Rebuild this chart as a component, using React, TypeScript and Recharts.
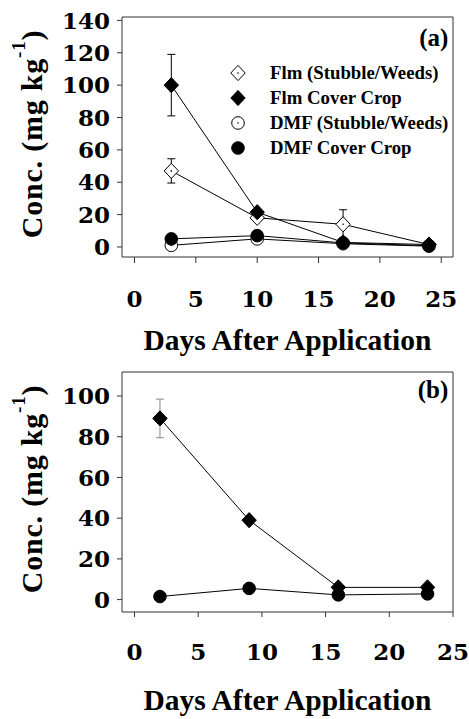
import React from 'react';
import { LineChart, Line, XAxis, YAxis, ReferenceArea, ErrorBar, Legend } from 'recharts';

// ---- Panel (a) data ----
const daysA = [3, 10, 17, 24];
const flmStubbleA = [47, 18, 14, 1.5];
const flmStubbleErrA = [7.5, null, 9, null];
const flmCoverA = [100, 21.5, 2.8, 1.5];
const flmCoverErrA = [19, null, null, null];
const dmfStubbleA = [1, 5, 2, 0.5];
const dmfCoverA = [5, 7, 2.5, 0.8];

// ---- Panel (b) data ----
const daysB = [2, 9, 16, 23];
const flmCoverB = [89, 39, 6, 6];
const flmCoverErrB = [9.5, null, null, null];
const dmfCoverB = [1.5, 5.5, 2.3, 2.8];

// ---- ticks / labels ----
const xTicks = [0, 5, 10, 15, 20, 25];
const yTicksA = [0, 20, 40, 60, 80, 100, 120, 140];
const yTicksB = [0, 20, 40, 60, 80, 100];
const legendLabels = ['Flm (Stubble/Weeds)', 'Flm Cover Crop', 'DMF (Stubble/Weeds)', 'DMF Cover Crop'];
const legendKinds = ['dOpen', 'dFill', 'cOpen', 'cFill'];
const xTitle = 'Days After Application';
const panelA = '(a)';
const panelB = '(b)';

const domainXA: [number, number] = [-1.02, 25.96];
const domainYA: [number, number] = [-6.2, 142.1];
const domainXB: [number, number] = [-0.98, 25];
const domainYB: [number, number] = [-6.1, 111.8];

const dataA = daysA.map((d, i) => ({
  day: d,
  flmS: flmStubbleA[i],
  flmSErr: flmStubbleErrA[i],
  flmC: flmCoverA[i],
  flmCErr: flmCoverErrA[i],
  dmfS: dmfStubbleA[i],
  dmfC: dmfCoverA[i],
}));

const dataB = daysB.map((d, i) => ({
  day: d,
  flmC: flmCoverB[i],
  flmCErr: flmCoverErrB[i],
  dmfC: dmfCoverB[i],
}));

const SERIF = '"Liberation Serif", "Times New Roman", serif';
const DSERIF = '"DejaVu Serif", serif';

function Marker({ kind, cx, cy }: { kind: string; cx: number; cy: number }) {
  if (kind === 'dOpen' || kind === 'dFill') {
    const pts = `${cx},${cy - 7.6} ${cx + 7.2},${cy} ${cx},${cy + 7.6} ${cx - 7.2},${cy}`;
    return (
      <g>
        <polygon points={pts} fill={kind === 'dFill' ? '#000' : '#fff'} stroke="#000" strokeWidth={1} />
        {kind === 'dOpen' && <circle cx={cx} cy={cy} r={0.8} fill="#000" />}
      </g>
    );
  }
  return (
    <g>
      <circle cx={cx} cy={cy} r={6.3} fill={kind === 'cFill' ? '#000' : '#fff'} stroke="#000" strokeWidth={1} />
      {kind === 'cOpen' && <circle cx={cx} cy={cy} r={0.8} fill="#000" />}
    </g>
  );
}

const dotFor = (kind: string) => (props: any) => {
  const { cx, cy, index } = props;
  if (cx == null || cy == null) return <g key={`k${kind}${index}`} />;
  return (
    <g key={`k${kind}${index}`}>
      <Marker kind={kind} cx={cx} cy={cy} />
    </g>
  );
};

const YLabel = (props: any) => {
  const vb = props.viewBox || {};
  const cx = 41.5;
  const cy = vb.y + vb.height / 2 - 3;
  return (
    <text
      transform={`rotate(-90, ${cx}, ${cy})`}
      x={cx}
      y={cy}
      textAnchor="middle"
      fontFamily={SERIF}
      fontWeight={700}
      fontSize={30}
      letterSpacing={0.8}
      fill="#000"
    >
      Conc. (mg kg
      <tspan dy={-17} fontSize={19}>-1</tspan>
      <tspan dy={17}>)</tspan>
    </text>
  );
};

const makeXLabel = (offset: number) => (props: any) => {
  const vb = props.viewBox || {};
  return (
    <text
      x={vb.x + vb.width / 2}
      y={vb.y + offset}
      textAnchor="middle"
      fontFamily={SERIF}
      fontWeight={700}
      fontSize={29.5}
      fill="#000"
    >
      {xTitle}
    </text>
  );
};

const makeCorner = (txt: string, dy: number) => (props: any) => {
  const vb = props.viewBox || {};
  return (
    <text
      x={vb.x + vb.width - 4.7}
      y={vb.y + dy}
      textAnchor="end"
      fontFamily={SERIF}
      fontWeight={700}
      fontSize={25}
      fill="#000"
    >
      {txt}
    </text>
  );
};

const LegendBox = () => (
  <div style={{ position: 'absolute', left: 226, top: 61, width: 240 }}>
    {legendLabels.map((lab, i) => (
      <div key={lab} style={{ height: 24.8, display: 'flex', alignItems: 'center' }}>
        <svg width={24} height={20} style={{ display: 'block' }}>
          <Marker kind={legendKinds[i]} cx={12} cy={10} />
        </svg>
        <span
          style={{
            marginLeft: 20,
            fontFamily: SERIF,
            fontWeight: 700,
            fontSize: 18.8,
            color: '#000',
            whiteSpace: 'nowrap',
            lineHeight: '20px',
          }}
        >
          {lab}
        </span>
      </div>
    ))}
  </div>
);

const tickStyle = { fontFamily: DSERIF, fontWeight: 700, fontSize: 23, fill: '#000' };

export default function App() {
  return (
    <div style={{ position: 'absolute', left: 0, top: 0, width: 469, height: 719, background: '#fff' }}>
      <div style={{ position: 'absolute', left: 0, top: 0 }}>
        <LineChart width={469} height={360} data={dataA} margin={{ top: 17, right: 16, left: 0, bottom: 0 }}>
          <XAxis
            dataKey="day"
            type="number"
            domain={domainXA}
            ticks={xTicks}
            allowDataOverflow
            axisLine={false}
            tickLine={{ stroke: '#333' }}
            tickSize={6}
            tickMargin={27.4}
            tick={tickStyle}
            height={103}
            interval={0}
            label={makeXLabel(93)}
          />
          <YAxis
            type="number"
            domain={domainYA}
            ticks={yTicksA}
            allowDataOverflow
            axisLine={false}
            tickLine={{ stroke: '#333' }}
            tickSize={5}
            tickMargin={7}
            tick={tickStyle}
            width={122}
            interval={0}
            label={YLabel}
          />
          <ReferenceArea
            x1={domainXA[0]}
            x2={domainXA[1]}
            y1={domainYA[0]}
            y2={domainYA[1]}
            fill="none"
            fillOpacity={0}
            stroke="#333"
            strokeWidth={1}
            ifOverflow="extendDomain"
            label={makeCorner(panelA, 28.5)}
          />
          <Legend layout="horizontal" verticalAlign="middle" content={LegendBox} wrapperStyle={{ left: 0, top: 0, width: 469, height: 1 }} />
          <Line dataKey="flmS" name={legendLabels[0]} stroke="#000" strokeWidth={1} dot={dotFor('dOpen')} activeDot={false} isAnimationActive={false}>
            <ErrorBar dataKey="flmSErr" direction="y" width={4} stroke="#000" strokeWidth={1} />
          </Line>
          <Line dataKey="flmC" name={legendLabels[1]} stroke="#000" strokeWidth={1} dot={dotFor('dFill')} activeDot={false} isAnimationActive={false}>
            <ErrorBar dataKey="flmCErr" direction="y" width={4} stroke="#000" strokeWidth={1} />
          </Line>
          <Line dataKey="dmfS" name={legendLabels[2]} stroke="#000" strokeWidth={1} dot={dotFor('cOpen')} activeDot={false} isAnimationActive={false} />
          <Line dataKey="dmfC" name={legendLabels[3]} stroke="#000" strokeWidth={1} dot={dotFor('cFill')} activeDot={false} isAnimationActive={false} />
        </LineChart>
      </div>
      <div style={{ position: 'absolute', left: 0, top: 360 }}>
        <LineChart width={469} height={359} data={dataB} margin={{ top: 12, right: 16, left: 0, bottom: 0 }}>
          <XAxis
            dataKey="day"
            type="number"
            domain={domainXB}
            ticks={xTicks}
            allowDataOverflow
            axisLine={false}
            tickLine={{ stroke: '#333' }}
            tickSize={5}
            tickMargin={26.7}
            tick={tickStyle}
            height={107}
            interval={0}
            label={makeXLabel(98.3)}
          />
          <YAxis
            type="number"
            domain={domainYB}
            ticks={yTicksB}
            allowDataOverflow
            axisLine={false}
            tickLine={{ stroke: '#333' }}
            tickSize={5}
            tickMargin={7}
            tick={tickStyle}
            width={122}
            interval={0}
            label={YLabel}
          />
          <ReferenceArea
            x1={domainXB[0]}
            x2={domainXB[1]}
            y1={domainYB[0]}
            y2={domainYB[1]}
            fill="none"
            fillOpacity={0}
            stroke="#333"
            strokeWidth={1}
            ifOverflow="extendDomain"
            label={makeCorner(panelB, 26)}
          />
          <Line dataKey="flmC" stroke="#000" strokeWidth={1} dot={dotFor('dFill')} activeDot={false} isAnimationActive={false}>
            <ErrorBar dataKey="flmCErr" direction="y" width={4} stroke="#888" strokeWidth={1} />
          </Line>
          <Line dataKey="dmfC" stroke="#000" strokeWidth={1} dot={dotFor('cFill')} activeDot={false} isAnimationActive={false} />
        </LineChart>
      </div>
    </div>
  );
}
